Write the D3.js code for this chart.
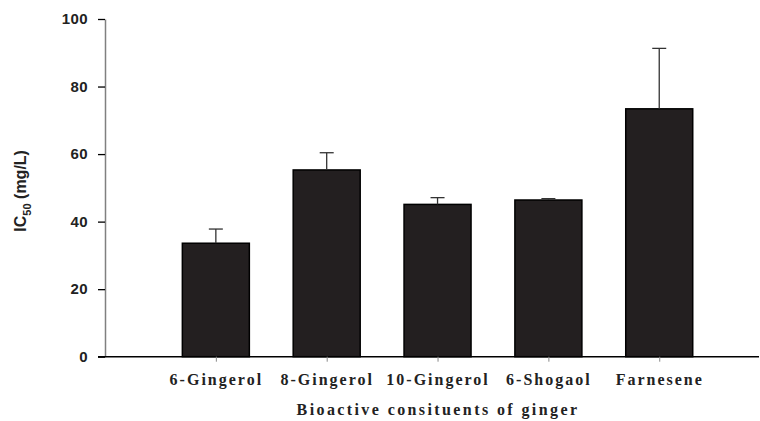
<!DOCTYPE html>
<html>
<head>
<meta charset="utf-8">
<script src="https://cdn.jsdelivr.net/npm/d3@7"></script>
<style>
  html, body { margin: 0; padding: 0; background: #fff; }
  svg { display: block; }
</style>
</head>
<body>
<svg id="chart" width="760" height="421"></svg>
<script>
// IC50 of ginger bioactive constituents (mean with upper error bar)
const compounds = ["6-Gingerol", "8-Gingerol", "10-Gingerol", "6-Shogaol", "Farnesene"];
const ic50Values = [33.6, 55.3, 45.1, 46.4, 73.4];
const ic50Errors = [4.2, 5.1, 2.0, 0.4, 17.9];
const yTicks = [0, 20, 40, 60, 80, 100];

const svg = d3.select("#chart");
const axisLeft = 105, axisRight = 759;
const yTop = 19, yBottom = 356.7;

// Compounds sit at positions 1..5 along a linear x scale starting at the y axis
const x = d3.scaleLinear().domain([0, 5.9]).range([axisLeft, axisRight]);
const y = d3.scaleLinear().domain([0, 100]).range([yBottom, yTop]);
const barWidth = 67;
const capWidth = 14;

// Bars
svg.append("g").selectAll("rect")
  .data(compounds)
  .join("rect")
  .attr("x", (d, i) => x(i + 1) - barWidth / 2)
  .attr("y", (d, i) => y(ic50Values[i]))
  .attr("width", barWidth)
  .attr("height", (d, i) => y(0) - y(ic50Values[i]))
  .attr("fill", "#231f20")
  .attr("stroke", "#000")
  .attr("stroke-width", 1.5);

// Error bars (upper only)
const err = svg.append("g").attr("stroke", "#333").attr("stroke-width", 1.3);
compounds.forEach((c, i) => {
  const cx = x(i + 1);
  err.append("line")
    .attr("x1", cx).attr("x2", cx)
    .attr("y1", y(ic50Values[i])).attr("y2", y(ic50Values[i] + ic50Errors[i]));
  err.append("line")
    .attr("x1", cx - capWidth / 2).attr("x2", cx + capWidth / 2)
    .attr("y1", y(ic50Values[i] + ic50Errors[i])).attr("y2", y(ic50Values[i] + ic50Errors[i]));
});

// Y axis
const yAxis = svg.append("g")
  .attr("transform", `translate(${axisLeft},0)`)
  .call(d3.axisLeft(y).tickValues(yTicks).tickSize(7).tickPadding(10).tickSizeOuter(0));
yAxis.select(".domain").attr("stroke", "#808080").attr("stroke-width", 1.5);
yAxis.selectAll(".tick line").attr("stroke", "#000").attr("stroke-width", 1.3);
yAxis.selectAll(".tick text")
  .attr("fill", "#222")
  .style("font-family", "Arial, 'Liberation Sans', sans-serif")
  .style("font-weight", "bold")
  .style("font-size", "15px")
  .style("letter-spacing", "0.4px");

// X axis
const xAxis = svg.append("g")
  .attr("transform", `translate(0,${yBottom})`)
  .call(d3.axisBottom(x).tickValues(d3.range(1, compounds.length + 1))
    .tickFormat(d => compounds[d - 1]).tickSize(5).tickPadding(12).tickSizeOuter(0));
xAxis.select(".domain").attr("stroke", "#000").attr("stroke-width", 1.5)
  .attr("d", `M${axisLeft - 7},0H${axisRight}`);
xAxis.selectAll(".tick line").attr("stroke", "#888").attr("stroke-width", 1);
xAxis.selectAll(".tick text")
  .attr("fill", "#222")
  .style("font-family", "'Times New Roman', 'Liberation Serif', serif")
  .style("font-weight", "bold")
  .style("font-size", "16px")
  .style("letter-spacing", "2px");

// X axis title
svg.append("text")
  .attr("x", 438).attr("y", 415)
  .attr("text-anchor", "middle")
  .attr("fill", "#222")
  .style("font-family", "'Times New Roman', 'Liberation Serif', serif")
  .style("font-weight", "bold")
  .style("font-size", "16px")
  .style("letter-spacing", "2.4px")
  .text("Bioactive consituents of ginger");

// Y axis title with subscript
const yTitle = svg.append("text")
  .attr("transform", `translate(26,${(yTop + yBottom) / 2 + 3}) rotate(-90)`)
  .attr("text-anchor", "middle")
  .attr("fill", "#222")
  .style("font-family", "Arial, 'Liberation Sans', sans-serif")
  .style("font-weight", "bold")
  .style("font-size", "16px");
yTitle.append("tspan").text("IC");
yTitle.append("tspan").attr("dy", 5).style("font-size", "11px").text("50");
yTitle.append("tspan").attr("dy", -5).text(" (mg/L)");
</script>
</body>
</html>
